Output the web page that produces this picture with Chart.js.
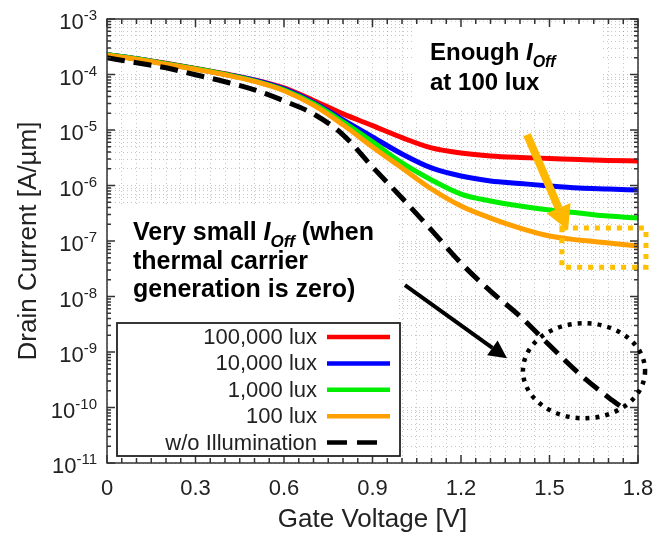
<!DOCTYPE html>
<html lang="en">
<head>
<meta charset="UTF-8">
<title>Drain current vs gate voltage</title>
<script src="https://cdn.jsdelivr.net/npm/chart.js"></script>
<style>
  html, body { margin: 0; padding: 0; background: #fff; }
</style>
</head>
<body>
<canvas id="myChart" width="672" height="543"></canvas>
<script>
    // gate voltage sweep [V]
    const gateVoltage = [0, 0.1, 0.2, 0.3, 0.4, 0.5, 0.6, 0.7, 0.8, 0.9, 1.0, 1.1, 1.2, 1.3, 1.4, 1.5, 1.6, 1.7, 1.8];
    const gateVoltageDark = [0, 0.1, 0.2, 0.3, 0.4, 0.5, 0.6, 0.7, 0.8, 0.9, 1.0, 1.1, 1.2, 1.3, 1.4, 1.5, 1.6, 1.7, 1.76];

    // drain current [A/um] for each illumination
    const lux100000 = [2.27e-4, 1.92e-4, 1.59e-4, 1.29e-4, 1.03e-4, 8.0e-5, 5.75e-5, 3.4e-5, 1.95e-5, 1.2e-5, 7.3e-6, 4.75e-6, 3.86e-6, 3.41e-6, 3.2e-6, 3.07e-6, 2.94e-6, 2.83e-6, 2.77e-6];
    const lux10000 = [2.27e-4, 1.92e-4, 1.56e-4, 1.27e-4, 1.01e-4, 7.9e-5, 5.5e-5, 3.15e-5, 1.52e-5, 7.5e-6, 3.7e-6, 2.07e-6, 1.48e-6, 1.21e-6, 1.09e-6, 9.8e-7, 9.0e-7, 8.65e-7, 8.3e-7];
    const lux1000 = [2.27e-4, 1.92e-4, 1.56e-4, 1.27e-4, 1.01e-4, 7.7e-5, 5.3e-5, 3.0e-5, 1.40e-5, 6.1e-6, 2.55e-6, 1.26e-6, 7.0e-7, 5.25e-7, 4.27e-7, 3.61e-7, 3.19e-7, 2.81e-7, 2.59e-7];
    const lux100 = [2.22e-4, 1.88e-4, 1.53e-4, 1.24e-4, 9.9e-5, 7.5e-5, 5.1e-5, 2.8e-5, 1.24e-5, 4.95e-6, 2.07e-6, 8.65e-7, 4.27e-7, 2.59e-7, 1.71e-7, 1.23e-7, 1.04e-7, 9.2e-8, 8.1e-8];
    const noIllumination = [2.0e-4, 1.63e-4, 1.32e-4, 9.9e-5, 7.4e-5, 5.3e-5, 3.35e-5, 1.95e-5, 8.2e-6, 2.16e-6, 5.95e-7, 1.57e-7, 4.0e-8, 1.25e-8, 4.4e-9, 1.32e-9, 4.1e-10, 1.52e-10, 8.9e-11];

    const seriesLabels = ['100,000 lux', '10,000 lux', '1,000 lux', '100 lux', 'w/o Illumination'];
    const xTickLabels = ['0', '0.3', '0.6', '0.9', '1.2', '1.5', '1.8'];
    const yTickExponents = [-3, -4, -5, -6, -7, -8, -9, -10, -11];

    const fam = '"Liberation Sans", Arial, sans-serif';
    Chart.defaults.font.family = fam;

    function pts(xs, ys) {
        return xs.map((v, i) => ({ x: v, y: ys[i] }));
    }

    function px(chart, v, i) {
        return [chart.scales.x.getPixelForValue(v), chart.scales.y.getPixelForValue(i)];
    }

    function drawArrow(ctx, x1, y1, x2, y2, w, hl, hw, color) {
        const ang = Math.atan2(y2 - y1, x2 - x1);
        const bx = x2 - hl * Math.cos(ang), by = y2 - hl * Math.sin(ang);
        ctx.setLineDash([]);
        ctx.strokeStyle = color;
        ctx.fillStyle = color;
        ctx.lineWidth = w;
        ctx.lineCap = 'butt';
        ctx.beginPath();
        ctx.moveTo(x1, y1);
        ctx.lineTo(bx, by);
        ctx.stroke();
        ctx.beginPath();
        ctx.moveTo(x2, y2);
        ctx.lineTo(bx + hw * Math.sin(ang), by - hw * Math.cos(ang));
        ctx.lineTo(bx - hw * Math.sin(ang), by + hw * Math.cos(ang));
        ctx.closePath();
        ctx.fill();
    }

    // text with an italic I_Off in it
    function drawRuns(ctx, x, y, parts) {
        parts.forEach(p => {
            ctx.font = p.font;
            ctx.fillText(p.text, x, y + (p.dy || 0));
            x += ctx.measureText(p.text).width;
        });
    }

    const bold = 'bold 24px ' + fam;
    const boldIt = 'italic bold 24px ' + fam;
    const subIt = 'italic bold 16px ' + fam;

    const decoPlugin = {
        id: 'deco',
        beforeDatasetsDraw(chart) {
            const ctx = chart.ctx;
            const area = chart.chartArea;
            ctx.save();
            ctx.fillStyle = '#fff';
            // white behind the note and legend
            let a = px(chart, 0.004, 4.1e-7), b = px(chart, 0.99, 1e-11);
            ctx.fillRect(a[0], a[1], b[0] - a[0], area.bottom - a[1]);
            // white behind "Enough Ioff"
            a = px(chart, 1.044, 8.9e-4); b = px(chart, 1.681, 2.5e-5);
            ctx.fillRect(a[0], a[1], b[0] - a[0], b[1] - a[1]);
            ctx.restore();
        },
        afterDraw(chart) {
            const ctx = chart.ctx;
            const area = chart.chartArea;
            const xs = chart.scales.x, ys = chart.scales.y;
            ctx.save();

            // frame and inward ticks
            ctx.strokeStyle = '#333';
            ctx.lineWidth = 1.5;
            ctx.strokeRect(area.left, area.top, area.right - area.left, area.bottom - area.top);
            ctx.beginPath();
            xs.ticks.forEach(t => {
                const x = xs.getPixelForValue(t.value);
                const len = Math.round(t.value / 0.05) % 6 === 0 ? 8 : 5;
                ctx.moveTo(x, area.bottom); ctx.lineTo(x, area.bottom - len);
                ctx.moveTo(x, area.top); ctx.lineTo(x, area.top + len);
            });
            ys.ticks.forEach(t => {
                const y = ys.getPixelForValue(t.value);
                const lg = Math.log10(t.value);
                const len = Math.abs(lg - Math.round(lg)) < 1e-6 ? 8 : 4;
                ctx.moveTo(area.left, y); ctx.lineTo(area.left + len, y);
                ctx.moveTo(area.right, y); ctx.lineTo(area.right - len, y);
            });
            ctx.stroke();

            // y tick labels 10^n
            ctx.fillStyle = '#222';
            ctx.textBaseline = 'alphabetic';
            yTickExponents.forEach(e => {
                const y = ys.getPixelForValue(Math.pow(10, e));
                const right = area.left - 10;
                ctx.font = '15px ' + fam;
                const ew = ctx.measureText(String(e)).width;
                ctx.textAlign = 'left';
                ctx.fillText(String(e), right - ew, y + 1);
                ctx.font = '22px ' + fam;
                ctx.textAlign = 'right';
                ctx.fillText('10', right - ew, y + 10);
            });

            // legend
            const L = area.left + 10, B = area.bottom - 7, T = B - 133;
            ctx.fillStyle = '#fff';
            ctx.fillRect(L, T, 283, B - T);
            ctx.strokeStyle = '#222';
            ctx.lineWidth = 1.8;
            ctx.strokeRect(L, T, 283, B - T);
            chart.data.datasets.forEach((ds, k) => {
                const y = T + 14 + k * 26.4;
                ctx.fillStyle = '#222';
                ctx.font = '22px ' + fam;
                ctx.textAlign = 'right';
                ctx.textBaseline = 'middle';
                ctx.fillText(ds.label, L + 200, y + 1);
                ctx.strokeStyle = ds.borderColor;
                ctx.lineWidth = 4.5;
                ctx.setLineDash(ds.borderDash ? [20, 10] : []);
                ctx.beginPath();
                ctx.moveTo(L + 210, y);
                ctx.lineTo(ds.borderDash ? L + 261 : L + 273, y);
                ctx.stroke();
            });
            ctx.setLineDash([]);

            // notes
            ctx.fillStyle = '#000';
            ctx.textAlign = 'left';
            ctx.textBaseline = 'alphabetic';
            let p = px(chart, 1.095, 1.84e-4);
            drawRuns(ctx, p[0], p[1], [
                { text: 'Enough ', font: bold },
                { text: 'I', font: boldIt },
                { text: 'Off', font: subIt, dy: 7 }
            ]);
            p = px(chart, 1.095, 5.3e-5);
            drawRuns(ctx, p[0], p[1], [{ text: 'at 100 lux', font: bold }]);

            const big = 'bold 25px ' + fam;
            p = px(chart, 0.088, 1.04e-7);
            drawRuns(ctx, p[0], p[1], [
                { text: 'Very small ', font: big },
                { text: 'I', font: 'italic bold 25px ' + fam },
                { text: 'Off', font: 'italic bold 17px ' + fam, dy: 7 },
                { text: ' (when', font: big }
            ]);
            p = px(chart, 0.088, 3.1e-8);
            drawRuns(ctx, p[0], p[1], [{ text: 'thermal carrier', font: big }]);
            p = px(chart, 0.088, 9.7e-9);
            drawRuns(ctx, p[0], p[1], [{ text: 'generation is zero)', font: big }]);

            // orange dotted box and arrow
            let a = px(chart, 1.542, 1.71e-7), b = px(chart, 1.827, 3.38e-8);
            ctx.strokeStyle = '#ffc000';
            ctx.lineWidth = 5;
            ctx.setLineDash([5, 6]);
            ctx.strokeRect(a[0], a[1], b[0] - a[0], b[1] - a[1]);
            a = px(chart, 1.424, 8.2e-6); b = px(chart, 1.563, 1.57e-7);
            drawArrow(ctx, a[0], a[1], b[0], b[1], 8, 24, 13, '#ffb800');

            // black arrow and dotted circle
            a = px(chart, 1.01, 1.6e-8); b = px(chart, 1.356, 7.7e-10);
            drawArrow(ctx, a[0], a[1], b[0], b[1], 4, 18, 9, '#000');
            const l = px(chart, 1.41, 3.3e-9), r = px(chart, 1.824, 6.4e-11);
            ctx.strokeStyle = '#000';
            ctx.lineWidth = 4.5;
            ctx.setLineDash([4, 6]);
            ctx.beginPath();
            ctx.ellipse((l[0] + r[0]) / 2, (l[1] + r[1]) / 2, (r[0] - l[0]) / 2, (r[1] - l[1]) / 2, 0, 0, Math.PI * 2);
            ctx.stroke();
            ctx.restore();
        }
    };

    const data = {
        datasets: [{
            label: seriesLabels[0],
            data: pts(gateVoltage, lux100000),
            borderColor: '#ff0000',
            order: 5
        }, {
            label: seriesLabels[1],
            data: pts(gateVoltage, lux10000),
            borderColor: '#0000ff',
            order: 4
        }, {
            label: seriesLabels[2],
            data: pts(gateVoltage, lux1000),
            borderColor: '#00ee00',
            order: 3
        }, {
            label: seriesLabels[3],
            data: pts(gateVoltage, lux100),
            borderColor: '#ffa000',
            order: 2
        }, {
            label: seriesLabels[4],
            data: pts(gateVoltageDark, noIllumination),
            borderColor: '#000000',
            borderDash: [18, 9],
            order: 1
        }]
    };

    const config = {
        type: 'line',
        data: data,
        options: {
            responsive: false,
            animation: false,
            layout: { padding: { top: 19, right: 34, left: 0, bottom: 0 } },
            elements: {
                point: { radius: 0 },
                line: { borderWidth: 5, cubicInterpolationMode: 'monotone', fill: false }
            },
            plugins: {
                legend: { display: false },
                tooltip: { enabled: false }
            },
            scales: {
                x: {
                    type: 'linear',
                    min: 0,
                    max: 1.8,
                    afterBuildTicks: (s) => {
                        const t = [];
                        for (let k = 0; k <= 36; k++) t.push({ value: k * 0.05 });
                        s.ticks = t;
                    },
                    afterFit: (s) => { s.height = 80; },
                    grid: { color: 'rgba(0,0,0,0.22)', lineWidth: 1, drawTicks: false },
                    border: { display: false, dash: [1, 3] },
                    ticks: {
                        autoSkip: false,
                        maxRotation: 0,
                        padding: 13,
                        color: '#222',
                        font: { size: 22 },
                        callback: (v) => {
                            const k = Math.round(v / 0.05);
                            return k % 6 === 0 ? xTickLabels[k / 6] : '';
                        }
                    },
                    title: {
                        display: true,
                        text: 'Gate Voltage [V]',
                        color: '#222',
                        font: { size: 26 },
                        padding: { top: 0, bottom: 8 }
                    }
                },
                y: {
                    type: 'logarithmic',
                    min: 1e-11,
                    max: 1e-3,
                    afterBuildTicks: (s) => {
                        const t = [];
                        for (let e = -11; e < -3; e++) {
                            for (let m = 1; m <= 9; m++) t.push({ value: m * Math.pow(10, e) });
                        }
                        t.push({ value: 1e-3 });
                        s.ticks = t;
                    },
                    afterFit: (s) => { s.width = 107; },
                    grid: { color: 'rgba(0,0,0,0.22)', lineWidth: 1, drawTicks: false },
                    border: { display: false, dash: [1, 3] },
                    ticks: { display: false },
                    title: {
                        display: true,
                        text: 'Drain Current [A/µm]',
                        color: '#222',
                        font: { size: 26 },
                        padding: { top: 13, bottom: 0 }
                    }
                }
            }
        },
        plugins: [decoPlugin]
    };

    const myChart = new Chart(
        document.getElementById('myChart'),
        config
    );
</script>
</body>
</html>
